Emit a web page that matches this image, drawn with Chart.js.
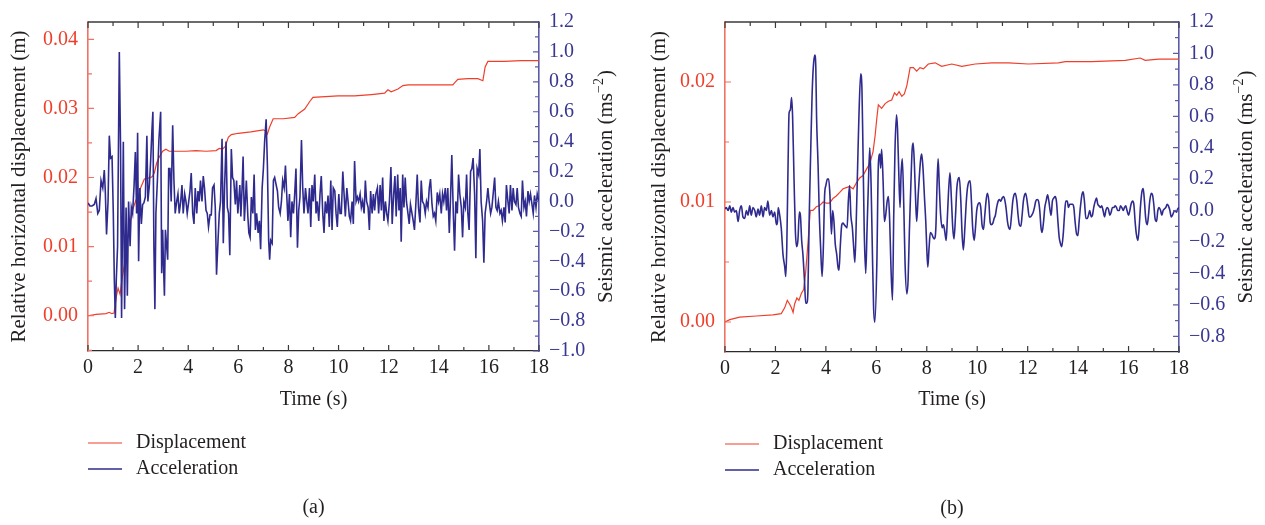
<!DOCTYPE html>
<html>
<head>
<meta charset="utf-8">
<script src="https://cdn.jsdelivr.net/npm/chart.js@4"></script>
<style>
  body { margin: 0; background: #fff; }
  canvas { position: absolute; top: 0; }
  #chartA { left: 0; }
  #chartB { left: 632px; }
</style>
</head>
<body>
<canvas id="chartA" width="632" height="525"></canvas>
<canvas id="chartB" width="633" height="525"></canvas>
<script>
// ---- data: [time (s), value] ----
// (a) seismic acceleration, ms^-2
const accA = [
  [0,-0.01],[0.08,-0.03],[0.16,-0.03],[0.25,-0.02],[0.32,0.02],[0.39,-0.08],[0.45,-0.06],[0.52,0.14],[0.59,0.09],[0.65,0.21],
  [0.69,0.07],[0.74,-0.22],[0.80,0.00],[0.85,0.44],[0.90,0.29],[0.96,0.30],[1.01,-0.08],[1.05,-0.52],[1.09,-0.78],[1.13,-0.52],
  [1.18,-0.30],[1.25,1.00],[1.30,0.35],[1.34,-0.78],[1.41,0.40],[1.46,-0.72],[1.52,-0.04],[1.57,-0.63],[1.62,0.00],[1.68,-0.30],
  [1.73,-0.04],[1.78,-0.08],[1.84,0.11],[1.89,0.33],[1.94,-0.08],[1.98,0.46],[2.02,-0.40],[2.07,0.09],[2.13,-0.15],[2.18,-0.02],
  [2.23,-0.01],[2.29,0.03],[2.35,0.44],[2.39,0.00],[2.45,0.11],[2.50,0.27],[2.55,0.47],[2.59,0.60],[2.63,-0.30],[2.67,-0.72],
  [2.71,-0.08],[2.77,0.14],[2.83,0.41],[2.90,0.60],[2.94,-0.48],[2.98,-0.19],[3.01,-0.41],[3.05,-0.63],[3.09,-0.19],[3.14,-0.30],
  [3.18,-0.39],[3.22,0.22],[3.27,0.22],[3.32,0.00],[3.38,0.51],[3.43,0.14],[3.48,-0.08],[3.54,0.00],[3.59,0.05],[3.64,-0.08],
  [3.70,0.00],[3.75,0.11],[3.80,-0.08],[3.86,0.05],[3.91,0.00],[3.96,-0.08],[4.02,0.00],[4.07,0.07],[4.12,0.19],[4.18,-0.08],
  [4.23,-0.15],[4.28,0.09],[4.34,-0.08],[4.39,0.07],[4.44,0.00],[4.49,0.14],[4.55,0.00],[4.60,0.17],[4.65,0.09],[4.71,-0.06],
  [4.76,-0.08],[4.81,-0.17],[4.87,-0.09],[4.92,-0.09],[4.97,0.09],[5.03,0.11],[5.08,-0.04],[5.13,-0.49],[5.19,-0.26],[5.24,-0.08],
  [5.29,0.00],[5.35,0.42],[5.40,-0.28],[5.45,0.09],[5.51,0.40],[5.56,-0.04],[5.61,-0.08],[5.66,-0.36],[5.72,0.35],[5.77,0.16],
  [5.82,0.14],[5.88,-0.02],[5.93,0.14],[5.98,-0.08],[6.06,0.11],[6.10,-0.10],[6.15,0.09],[6.19,0.30],[6.24,-0.13],[6.28,0.00],
  [6.32,0.14],[6.38,-0.10],[6.42,-0.21],[6.47,-0.24],[6.52,0.03],[6.58,-0.08],[6.63,0.18],[6.68,-0.19],[6.73,-0.08],[6.79,-0.21],
  [6.84,-0.13],[6.89,-0.32],[6.95,0.09],[7.00,0.22],[7.05,0.40],[7.11,0.55],[7.16,0.24],[7.21,-0.26],[7.25,-0.39],[7.29,-0.26],
  [7.35,-0.28],[7.40,0.14],[7.45,0.16],[7.51,0.11],[7.56,0.07],[7.61,-0.04],[7.67,-0.08],[7.72,0.00],[7.77,0.14],[7.83,0.09],
  [7.88,0.24],[7.93,0.05],[7.98,-0.13],[8.04,0.05],[8.09,-0.24],[8.14,0.00],[8.20,-0.08],[8.25,0.05],[8.30,0.22],[8.36,-0.31],
  [8.41,-0.06],[8.46,0.03],[8.52,0.41],[8.57,0.09],[8.62,-0.08],[8.68,0.09],[8.73,0.00],[8.78,-0.08],[8.84,0.09],[8.89,-0.17],
  [8.94,0.11],[8.99,0.00],[9.05,0.18],[9.10,-0.08],[9.15,0.00],[9.21,-0.13],[9.26,0.05],[9.31,0.17],[9.37,-0.08],[9.42,-0.21],
  [9.47,0.00],[9.53,-0.08],[9.58,0.04],[9.63,-0.17],[9.69,0.14],[9.74,-0.19],[9.79,0.09],[9.85,0.07],[9.90,-0.08],[9.95,-0.17],
  [10.01,0.05],[10.06,-0.08],[10.11,-0.08],[10.17,0.20],[10.22,0.05],[10.27,-0.10],[10.33,0.09],[10.38,0.00],[10.43,-0.10],[10.48,-0.13],
  [10.54,0.00],[10.59,-0.15],[10.64,0.27],[10.70,0.00],[10.75,0.03],[10.80,0.00],[10.86,0.05],[10.91,-0.04],[10.96,0.00],[11.02,-0.08],
  [11.07,0.14],[11.12,0.00],[11.18,-0.04],[11.23,-0.19],[11.28,0.07],[11.34,-0.08],[11.39,0.05],[11.44,-0.06],[11.49,0.05],[11.55,0.09],
  [11.60,-0.08],[11.66,0.11],[11.71,-0.06],[11.76,0.16],[11.81,-0.13],[11.87,0.00],[11.92,-0.08],[11.97,-0.13],[12.03,0.00],[12.09,0.23],
  [12.14,-0.15],[12.20,0.05],[12.25,0.17],[12.30,-0.10],[12.36,0.18],[12.41,-0.06],[12.46,0.09],[12.50,-0.27],[12.56,0.18],[12.61,-0.04],
  [12.66,0.16],[12.71,0.00],[12.77,-0.08],[12.82,-0.15],[12.87,-0.02],[12.93,-0.08],[12.98,-0.13],[13.03,-0.19],[13.09,0.00],[13.14,0.18],
  [13.19,-0.04],[13.25,-0.14],[13.30,0.14],[13.35,0.00],[13.41,-0.02],[13.46,-0.08],[13.51,0.00],[13.57,-0.04],[13.62,0.09],[13.67,0.15],
  [13.73,-0.02],[13.78,-0.10],[13.83,-0.08],[13.88,-0.13],[13.94,0.06],[13.99,0.00],[14.04,0.05],[14.10,-0.08],[14.15,0.05],[14.20,0.00],
  [14.26,0.09],[14.31,-0.06],[14.36,0.09],[14.42,-0.21],[14.47,0.03],[14.52,0.31],[14.58,-0.08],[14.63,-0.33],[14.68,0.00],[14.74,-0.08],
  [14.79,0.18],[14.84,0.05],[14.90,-0.04],[14.95,-0.24],[15.00,0.00],[15.06,-0.04],[15.11,0.18],[15.16,-0.08],[15.21,-0.19],[15.27,0.20],
  [15.32,0.22],[15.37,0.29],[15.43,0.05],[15.48,-0.38],[15.53,0.22],[15.59,0.18],[15.64,0.35],[15.69,0.00],[15.75,-0.13],[15.80,-0.41],
  [15.85,-0.08],[15.91,0.00],[15.96,0.09],[16.01,0.00],[16.07,-0.08],[16.12,-0.04],[16.17,0.05],[16.23,0.16],[16.28,-0.04],[16.33,-0.06],
  [16.38,0.00],[16.44,-0.08],[16.49,-0.06],[16.54,-0.13],[16.60,-0.04],[16.65,-0.14],[16.70,0.11],[16.76,0.00],[16.81,-0.08],[16.86,0.11],
  [16.92,-0.06],[16.97,0.09],[17.02,0.00],[17.08,-0.02],[17.13,0.09],[17.18,-0.04],[17.24,-0.08],[17.29,-0.10],[17.34,0.14],[17.40,-0.04],
  [17.45,0.00],[17.50,-0.10],[17.56,0.07],[17.61,0.00],[17.66,0.05],[17.72,-0.02],[17.77,-0.08],[17.82,0.04],[17.88,-0.04],[17.93,0.05],
  [18.00,0.00]
];
// (a) relative horizontal displacement, m
const dispA = [
  [0,0.0000],[0.32,0.0002],[0.72,0.0003],[0.85,0.0005],[0.95,0.0003],[1.04,0.0004],[1.12,0.0026],[1.20,0.0040],[1.28,0.0031],[1.36,0.0054],
  [1.45,0.0073],[1.54,0.0101],[1.65,0.0129],[1.78,0.0153],[1.91,0.0167],[2.02,0.0174],[2.11,0.0186],[2.25,0.0198],[2.38,0.0199],[2.51,0.0200],
  [2.58,0.0202],[2.65,0.0207],[2.74,0.0221],[2.85,0.0230],[2.98,0.0238],[3.11,0.0241],[3.24,0.0238],[3.51,0.0238],[3.91,0.0238],[4.31,0.0239],
  [4.71,0.0238],[5.11,0.0239],[5.24,0.0242],[5.37,0.0241],[5.48,0.0245],[5.60,0.0258],[5.72,0.0262],[6.00,0.0264],[6.50,0.0266],[7.00,0.0269],
  [7.10,0.0267],[7.16,0.0263],[7.25,0.0273],[7.39,0.0285],[7.80,0.0285],[8.25,0.0287],[8.38,0.0292],[8.65,0.0299],[8.85,0.0310],[8.98,0.0316],
  [9.98,0.0318],[10.64,0.0318],[11.31,0.0320],[11.84,0.0322],[11.97,0.0327],[12.10,0.0324],[12.37,0.0328],[12.57,0.0333],[12.77,0.0334],[13.30,0.0334],
  [13.96,0.0334],[14.56,0.0334],[14.63,0.0337],[14.76,0.0342],[15.16,0.0343],[15.56,0.0343],[15.76,0.0340],[15.85,0.0360],[15.96,0.0368],[16.62,0.0368],
  [17.29,0.0369],[18.00,0.0369]
];
// (b) seismic acceleration, ms^-2
const accB = [
  [0,0.01],[0.05,0.02],[0.12,0.00],[0.19,0.03],[0.25,-0.01],[0.32,0.02],[0.38,-0.01],[0.45,0.00],[0.52,-0.07],[0.58,0.00],
  [0.65,0.03],[0.71,-0.04],[0.78,-0.05],[0.85,0.00],[0.91,-0.03],[0.98,0.03],[1.04,-0.03],[1.11,0.02],[1.18,0.00],[1.24,-0.04],
  [1.31,0.01],[1.37,-0.03],[1.44,0.03],[1.51,-0.04],[1.57,0.02],[1.64,0.00],[1.70,0.06],[1.77,-0.03],[1.84,0.00],[1.90,-0.04],
  [1.97,-0.01],[2.04,-0.09],[2.08,-0.07],[2.11,0.02],[2.17,-0.03],[2.23,-0.11],[2.30,-0.28],[2.37,-0.36],[2.41,-0.42],[2.45,-0.23],
  [2.50,0.29],[2.54,0.62],[2.59,0.64],[2.64,0.72],[2.68,0.60],[2.74,0.18],[2.79,-0.13],[2.84,-0.23],[2.89,-0.19],[2.95,-0.01],
  [2.99,-0.03],[3.04,-0.19],[3.09,-0.28],[3.15,-0.44],[3.20,-0.59],[3.24,-0.59],[3.29,-0.50],[3.34,-0.03],[3.40,0.39],[3.45,0.72],
  [3.50,0.91],[3.56,0.99],[3.60,0.91],[3.63,0.60],[3.69,0.29],[3.74,-0.03],[3.79,-0.23],[3.85,-0.42],[3.90,-0.23],[3.95,0.10],
  [4.00,0.16],[4.06,0.20],[4.11,0.20],[4.16,0.10],[4.22,-0.15],[4.27,0.00],[4.32,-0.07],[4.37,-0.21],[4.43,-0.28],[4.48,-0.36],
  [4.52,-0.38],[4.57,-0.23],[4.63,-0.09],[4.68,-0.08],[4.73,-0.09],[4.78,-0.10],[4.84,-0.11],[4.89,0.06],[4.94,0.16],[4.99,-0.03],
  [5.05,-0.11],[5.10,-0.23],[5.15,-0.33],[5.21,-0.03],[5.26,0.29],[5.31,0.60],[5.38,0.87],[5.43,0.77],[5.47,0.39],[5.52,-0.13],
  [5.58,-0.40],[5.63,-0.13],[5.68,0.14],[5.74,0.40],[5.79,0.18],[5.84,-0.23],[5.89,-0.61],[5.94,-0.71],[6.02,-0.34],[6.08,0.29],
  [6.14,0.36],[6.17,0.27],[6.21,0.39],[6.27,0.18],[6.32,-0.07],[6.37,-0.03],[6.43,0.06],[6.48,0.09],[6.53,-0.07],[6.58,-0.36],
  [6.64,-0.57],[6.69,-0.03],[6.74,0.39],[6.80,0.61],[6.84,0.52],[6.89,0.24],[6.94,0.02],[6.98,0.23],[7.03,0.33],[7.09,0.02],
  [7.14,-0.34],[7.21,-0.53],[7.26,-0.44],[7.31,-0.13],[7.36,0.12],[7.42,0.39],[7.46,0.43],[7.51,0.29],[7.56,0.06],[7.60,-0.07],
  [7.66,0.10],[7.71,0.23],[7.76,0.33],[7.80,0.36],[7.85,0.27],[7.91,0.08],[7.96,-0.07],[8.00,-0.24],[8.04,-0.36],[8.09,-0.24],
  [8.14,-0.14],[8.20,-0.15],[8.25,-0.17],[8.30,-0.18],[8.36,-0.11],[8.41,0.18],[8.45,0.33],[8.50,0.14],[8.55,-0.03],[8.61,-0.11],
  [8.66,-0.09],[8.71,-0.13],[8.77,-0.19],[8.82,-0.03],[8.87,0.14],[8.92,0.24],[8.98,0.06],[9.03,-0.11],[9.08,-0.18],[9.14,-0.03],
  [9.19,0.14],[9.24,0.20],[9.29,0.21],[9.35,0.06],[9.40,-0.15],[9.45,-0.25],[9.51,-0.11],[9.56,0.04],[9.61,0.14],[9.66,0.18],
  [9.72,0.19],[9.77,0.06],[9.82,-0.11],[9.88,-0.19],[9.93,-0.11],[9.98,0.00],[10.03,0.04],[10.09,0.05],[10.14,0.02],[10.19,-0.09],
  [10.25,-0.12],[10.30,-0.03],[10.35,0.06],[10.40,0.11],[10.46,0.06],[10.51,-0.07],[10.56,-0.09],[10.62,-0.08],[10.67,-0.05],[10.72,-0.03],
  [10.77,0.02],[10.83,0.06],[10.88,0.07],[10.93,0.06],[10.99,0.08],[11.04,0.09],[11.09,0.07],[11.14,0.02],[11.20,-0.07],[11.25,-0.11],
  [11.30,-0.12],[11.36,-0.03],[11.41,0.06],[11.46,0.10],[11.51,0.11],[11.57,0.06],[11.62,-0.03],[11.67,-0.09],[11.73,-0.10],[11.78,-0.03],
  [11.83,0.06],[11.88,0.10],[11.92,0.11],[12.01,0.02],[12.06,-0.04],[12.11,-0.04],[12.16,-0.03],[12.22,-0.01],[12.27,0.02],[12.32,0.06],
  [12.38,0.07],[12.43,0.06],[12.48,0.00],[12.53,-0.11],[12.57,-0.14],[12.63,-0.07],[12.68,0.02],[12.73,0.06],[12.79,0.10],[12.84,0.06],
  [12.89,0.00],[12.93,-0.03],[12.98,0.06],[13.04,0.08],[13.09,0.09],[13.14,0.06],[13.20,-0.07],[13.25,-0.17],[13.30,-0.21],[13.35,-0.23],
  [13.41,-0.15],[13.46,-0.03],[13.51,0.06],[13.57,0.06],[13.62,0.02],[13.67,0.04],[13.72,0.04],[13.78,0.04],[13.83,0.02],[13.88,-0.07],
  [13.94,-0.15],[13.99,-0.16],[14.04,-0.07],[14.09,0.02],[14.15,0.10],[14.20,0.12],[14.25,0.06],[14.31,-0.05],[14.36,-0.05],[14.41,-0.03],
  [14.46,0.00],[14.52,-0.04],[14.57,-0.03],[14.62,0.02],[14.68,0.06],[14.73,0.08],[14.78,0.04],[14.83,0.03],[14.89,0.02],[14.94,0.03],
  [14.99,0.00],[15.05,-0.04],[15.10,0.00],[15.15,0.02],[15.20,0.01],[15.26,-0.03],[15.31,-0.01],[15.36,0.02],[15.42,0.02],[15.47,0.03],
  [15.52,0.02],[15.57,0.00],[15.63,0.00],[15.68,0.03],[15.73,0.02],[15.79,0.00],[15.84,0.02],[15.89,0.03],[15.94,0.00],[16.00,-0.03],
  [16.05,0.00],[16.10,0.04],[16.16,0.06],[16.21,0.04],[16.26,-0.07],[16.31,-0.15],[16.37,-0.19],[16.42,-0.11],[16.47,0.02],[16.53,0.12],
  [16.58,0.14],[16.63,0.06],[16.68,-0.05],[16.74,-0.09],[16.79,-0.03],[16.84,0.06],[16.90,0.11],[16.95,0.10],[17.00,0.04],[17.05,-0.05],
  [17.11,-0.07],[17.16,0.00],[17.21,0.02],[17.27,0.00],[17.32,-0.03],[17.37,0.00],[17.42,0.01],[17.48,0.02],[17.53,0.04],[17.58,0.03],
  [17.64,0.00],[17.69,-0.04],[17.74,-0.03],[17.79,-0.01],[17.85,0.00],[17.90,-0.01],[17.95,0.01],[18.00,0.02]
];
// (b) relative horizontal displacement, m
const dispB = [
  [0,0.0000],[0.19,0.0002],[0.58,0.0004],[1.24,0.0005],[1.90,0.0006],[2.23,0.0007],[2.37,0.0012],[2.47,0.0018],[2.56,0.0015],[2.63,0.0012],
  [2.70,0.0008],[2.76,0.0015],[2.85,0.0020],[2.93,0.0018],[3.03,0.0024],[3.12,0.0027],[3.20,0.0042],[3.29,0.0066],[3.38,0.0093],[3.49,0.0093],
  [3.62,0.0096],[3.75,0.0097],[3.89,0.0100],[4.02,0.0099],[4.15,0.0099],[4.28,0.0103],[4.41,0.0105],[4.55,0.0108],[4.68,0.0111],[4.81,0.0112],
  [4.94,0.0113],[5.08,0.0111],[5.21,0.0116],[5.34,0.0120],[5.47,0.0122],[5.60,0.0127],[5.74,0.0132],[5.87,0.0142],[5.95,0.0155],[6.02,0.0170],
  [6.08,0.0181],[6.21,0.0178],[6.35,0.0182],[6.48,0.0184],[6.61,0.0185],[6.72,0.0191],[6.81,0.0189],[6.90,0.0192],[7.01,0.0188],[7.11,0.0190],
  [7.21,0.0197],[7.34,0.0212],[7.47,0.0212],[7.60,0.0209],[7.73,0.0212],[7.87,0.0211],[8.06,0.0215],[8.33,0.0216],[8.59,0.0213],[8.99,0.0215],
  [9.39,0.0213],[9.92,0.0215],[10.58,0.0216],[11.24,0.0216],[12.03,0.0215],[13.22,0.0216],[13.49,0.0217],[14.54,0.0217],[15.87,0.0218],[16.46,0.0220],
  [16.66,0.0218],[17.19,0.0219],[18.00,0.0219]
];

const seriesNames = ['Displacement', 'Acceleration'];
const timeTitle = 'Time (s)';
const dispTitle = 'Relative horizontal displacement (m)';
const accTitle = 'Seismic acceleration (ms';

const FONT = "'Liberation Serif', 'Times New Roman', serif";
const TEXT = '#231f20';
const RED = '#ef3f2b';
const RED_AXIS = '#f07262';
const BLUE = '#2f2b8e';
const BLUE_AXIS = '#5d5aa8';

// frame ticks (inside), top frame line, rotated right title, legend and caption
const decorPlugin = {
  id: 'decor',
  afterDraw(chart, args, o) {
    const {ctx, chartArea: ca, scales} = chart;
    ctx.save();
    const mark = (px, py, dx, dy) => { ctx.moveTo(px, py); ctx.lineTo(px + dx, py + dy); };

    ctx.strokeStyle = '#3a3a3a';
    ctx.lineWidth = 1.3;
    ctx.beginPath();
    ctx.moveTo(ca.left, ca.top); ctx.lineTo(ca.right, ca.top);
    ctx.stroke();

    const xs = scales.x;
    const xv = xs.ticks.map(t => t.value);
    const xStep = xv[1] - xv[0];
    ctx.lineWidth = 1.2;
    ctx.beginPath();
    xv.forEach(v => {
      const p = xs.getPixelForValue(v);
      mark(p, ca.bottom, 0, -6); mark(p, ca.top, 0, 6);
      const m = v + xStep / 2;
      if (m < xs.max) {
        const q = xs.getPixelForValue(m);
        mark(q, ca.bottom, 0, -4); mark(q, ca.top, 0, 4);
      }
    });
    ctx.stroke();

    const yTicks = (sc, edge, dir, color) => {
      const vals = sc.ticks.map(t => t.value);
      const step = vals[1] - vals[0];
      ctx.strokeStyle = color;
      ctx.beginPath();
      vals.forEach(v => mark(edge, sc.getPixelForValue(v), 6 * dir, 0));
      for (let k = -1; k < vals.length; k++) {
        const m = vals[0] + (k + 0.5) * step;
        if (m > sc.min && m < sc.max) mark(edge, sc.getPixelForValue(m), 4 * dir, 0);
      }
      ctx.stroke();
    };
    yTicks(scales.yDisp, ca.left, 1, RED_AXIS);
    yTicks(scales.yAcc, ca.right, -1, BLUE_AXIS);

    // right axis title, reading upwards, with superscript
    ctx.fillStyle = TEXT;
    ctx.textBaseline = 'middle';
    ctx.textAlign = 'left';
    ctx.save();
    ctx.translate(ca.right + 67, (ca.top + ca.bottom) / 2);
    ctx.rotate(-Math.PI / 2);
    ctx.font = `21px ${FONT}`;
    const w1 = ctx.measureText(accTitle).width;
    const w3 = ctx.measureText(')').width;
    ctx.font = `14px ${FONT}`;
    const w2 = ctx.measureText('\u22122').width + 1;
    let cx = -(w1 + w2 + w3) / 2;
    ctx.font = `21px ${FONT}`;
    ctx.fillText(accTitle, cx, 0); cx += w1;
    ctx.font = `14px ${FONT}`;
    ctx.fillText('\u22122', cx, -7); cx += w2;
    ctx.font = `21px ${FONT}`;
    ctx.fillText(')', cx, 0);
    ctx.restore();

    // legend, stacked under the axis title
    ctx.font = `20px ${FONT}`;
    chart.data.datasets.forEach((ds, i) => {
      const y = ca.bottom + 92 + i * 26;
      ctx.strokeStyle = ds.borderColor;
      ctx.lineWidth = ds.borderWidth;
      ctx.beginPath();
      ctx.moveTo(ca.left, y); ctx.lineTo(ca.left + 34, y);
      ctx.stroke();
      ctx.fillStyle = TEXT;
      ctx.fillText(ds.label, ca.left + 48, y);
    });

    ctx.textAlign = 'center';
    ctx.fillText(o.caption, (ca.left + ca.right) / 2, ca.bottom + 157);
    ctx.restore();
  }
};

function makeChart(id, cfg) {
  return new Chart(document.getElementById(id), {
    type: 'line',
    data: {
      datasets: [{
        label: seriesNames[0],
        data: cfg.disp.map(([t, v]) => ({x: t, y: v})),
        yAxisID: 'yDisp',
        borderColor: RED,
        borderWidth: 1.2,
        pointRadius: 0,
        tension: 0,
        order: 2
      }, {
        label: seriesNames[1],
        data: cfg.acc.map(([t, v]) => ({x: t, y: v})),
        yAxisID: 'yAcc',
        borderColor: BLUE,
        borderWidth: 1.6,
        pointRadius: 0,
        cubicInterpolationMode: cfg.smooth ? 'monotone' : 'default',
        tension: 0,
        order: 1
      }]
    },
    options: {
      responsive: false,
      animation: false,
      layout: { padding: { top: 14, bottom: 110, left: 0, right: 0 } },
      plugins: {
        legend: { display: false },
        tooltip: { enabled: false },
        decor: { caption: cfg.caption }
      },
      scales: {
        x: {
          type: 'linear',
          min: 0, max: 18,
          afterFit: s => { s.height = cfg.xHeight; },
          grid: { display: false, drawTicks: false },
          border: { display: true, color: '#2a2a2a', width: 1.3 },
          ticks: { stepSize: 2, padding: 5, autoSkip: false, maxRotation: 0, color: TEXT, font: { family: FONT, size: 20 } },
          title: { display: true, text: timeTitle, color: TEXT, padding: { top: 0, bottom: 3 }, font: { family: FONT, size: 20 } }
        },
        yDisp: {
          type: 'linear',
          position: 'left',
          min: cfg.dispMin, max: cfg.dispMax,
          afterFit: s => { s.width = cfg.leftWidth; },
          grid: { display: false, drawTicks: false },
          border: { display: true, color: RED_AXIS, width: 1.6 },
          ticks: {
            stepSize: 0.01, includeBounds: false, padding: 10, autoSkip: false, color: RED,
            font: { family: FONT, size: 20 },
            callback: v => v.toFixed(2)
          },
          title: { display: true, text: dispTitle, color: TEXT, padding: { top: cfg.leftTitlePad }, font: { family: FONT, size: 21 } }
        },
        yAcc: {
          type: 'linear',
          position: 'right',
          min: cfg.accMin, max: 1.2,
          afterFit: s => { s.width = cfg.rightWidth; },
          grid: { display: false, drawTicks: false },
          border: { display: true, color: BLUE_AXIS, width: 1.6 },
          ticks: {
            stepSize: 0.2, includeBounds: false, padding: 10, autoSkip: false, color: '#3a3791',
            font: { family: FONT, size: 20 },
            callback: v => Math.abs(v) < 1e-9 ? '0.0' : v.toFixed(1).replace('-', '\u2212')
          }
        }
      }
    },
    plugins: [decorPlugin]
  });
}

makeChart('chartA', {
  acc: accA, disp: dispA, smooth: false, caption: '(a)',
  dispMin: -0.0051, dispMax: 0.0425, accMin: -1.0,
  leftWidth: 88, rightWidth: 93, xHeight: 64, leftTitlePad: 7
});
makeChart('chartB', {
  acc: accB, disp: dispB, smooth: true, caption: '(b)',
  dispMin: -0.0025, dispMax: 0.025, accMin: -0.9,
  leftWidth: 93, rightWidth: 86, xHeight: 63, leftTitlePad: 15
});
</script>
</body>
</html>
